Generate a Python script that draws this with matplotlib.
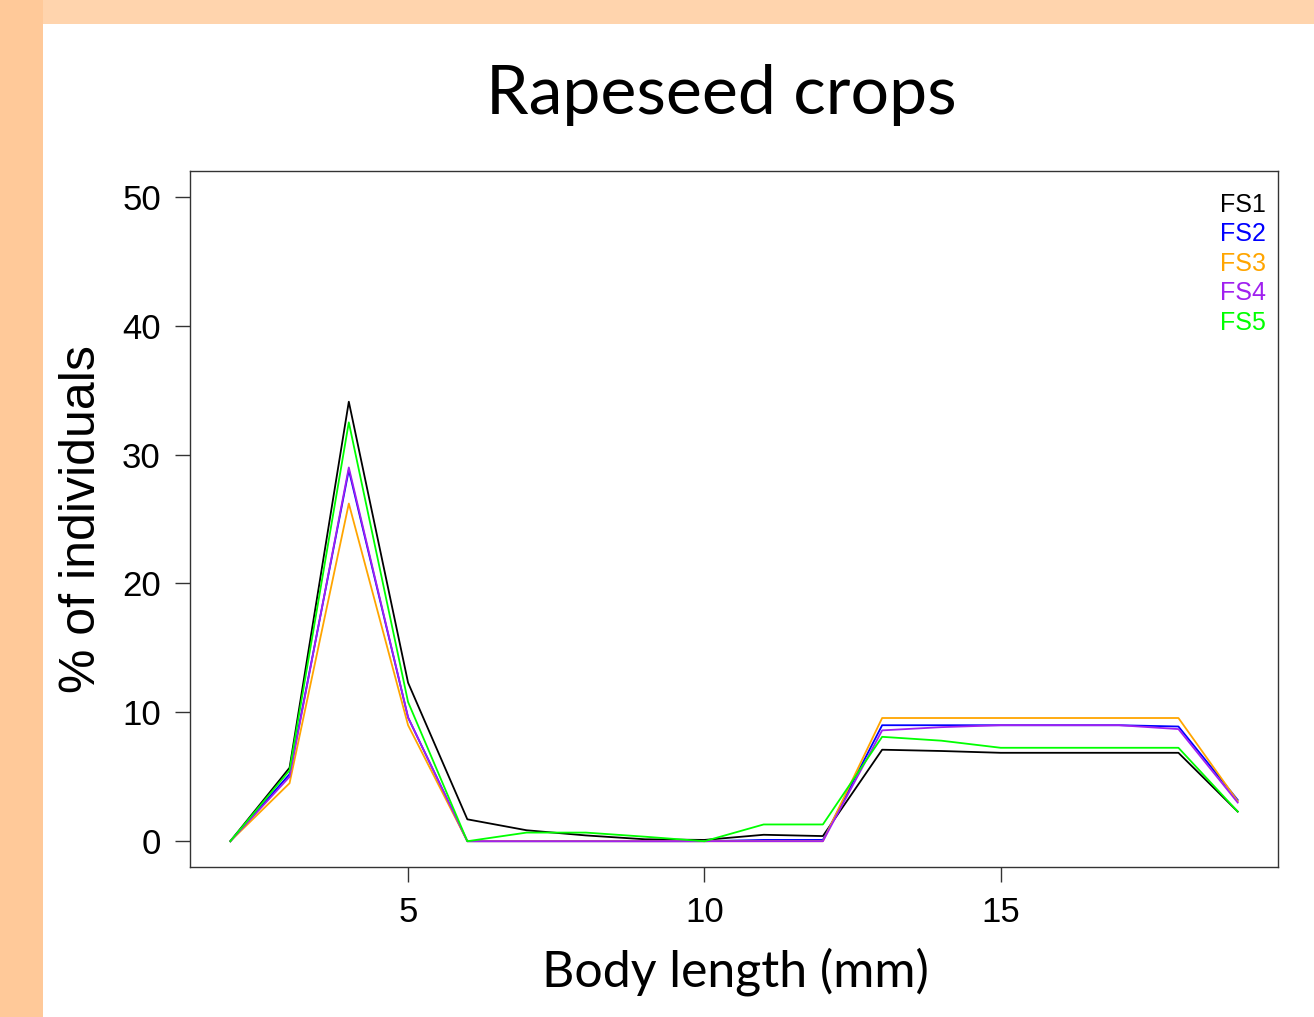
import numpy as np
import matplotlib.pyplot as plt
from matplotlib.patches import Rectangle

# body length classes (mm)
lengths = np.arange(2, 20)

fs1 = [0, 5.7, 34.1, 12.3, 1.7, 0.85, 0.45, 0.15, 0.1, 0.5, 0.4, 7.1, 7.0, 6.86, 6.86, 6.86, 6.86, 2.3]
fs2 = [0, 5.2, 28.8, 9.6, 0, 0, 0, 0, 0, 0.1, 0.1, 9.0, 9.0, 9.0, 9.0, 9.0, 8.9, 3.2]
fs3 = [0, 4.5, 26.2, 9.0, 0, 0, 0, 0, 0, 0, 0, 9.56, 9.56, 9.56, 9.56, 9.56, 9.56, 3.1]
fs4 = [0, 5.0, 29.0, 9.6, 0, 0, 0, 0, 0, 0, 0, 8.6, 8.85, 9.0, 9.0, 9.0, 8.7, 3.0]
fs5 = [0, 5.5, 32.5, 10.8, 0, 0.67, 0.67, 0.35, 0, 1.3, 1.3, 8.1, 7.8, 7.25, 7.25, 7.25, 7.25, 2.3]

series = [fs1, fs2, fs3, fs4, fs5]
names = ["FS1", "FS2", "FS3", "FS4", "FS5"]
colors = ["black", "#0000FF", "#FFA500", "#A020F0", "#00FF00"]

W, H = 1314, 1017
fig = plt.figure(figsize=(W / 100, H / 100), dpi=100)
fig.patch.set_facecolor("white")

# slide background: peach strips on the left and top
fig.patches.append(Rectangle((0, 0), 43 / W, 1, transform=fig.transFigure,
                             facecolor="#FFC999", edgecolor="none", zorder=0))
fig.patches.append(Rectangle((43 / W, 1 - 24 / H), 1, 24 / H, transform=fig.transFigure,
                             facecolor="#FFD4AD", edgecolor="none", zorder=0))

ax = fig.add_axes([190 / W, 150 / H, 1088 / W, 696 / H])

for y, c, n in zip(series, colors, names):
    ax.plot(lengths, y, color=c, lw=1.3, label=n)

ax.set_xlim(1.32, 19.68)
ax.set_ylim(-2, 52)
ax.set_xticks([5, 10, 15])
ax.set_yticks([0, 10, 20, 30, 40, 50])
ax.tick_params(length=11, width=1, labelsize=25, pad=10, color="#333333")
for lab in ax.get_xticklabels() + ax.get_yticklabels():
    lab.set_fontfamily("Liberation Sans")
for s in ax.spines.values():
    s.set_color("#333333")
    s.set_linewidth(1)

ax.set_ylabel("% of individuals", fontsize=36, fontfamily="Liberation Sans", labelpad=12)
ax.set_xlabel("Body length (mm)", fontsize=36, fontfamily="Lato")
ax.xaxis.set_label_coords(0.501, -0.116)
fig.text(721 / W, 1 - 95 / H, "Rapeseed crops", fontsize=49, fontfamily="Lato",
         ha="center", va="center")

leg = ax.legend(loc="upper right", frameon=False, handlelength=0, handletextpad=0,
                labelcolor="linecolor", prop={"family": "Liberation Sans", "size": 18},
                labelspacing=0.22, borderaxespad=0.0, bbox_to_anchor=(0.998, 0.983))
for h in leg.legend_handles:
    h.set_visible(False)

fig.savefig("out.png", dpi=100)
